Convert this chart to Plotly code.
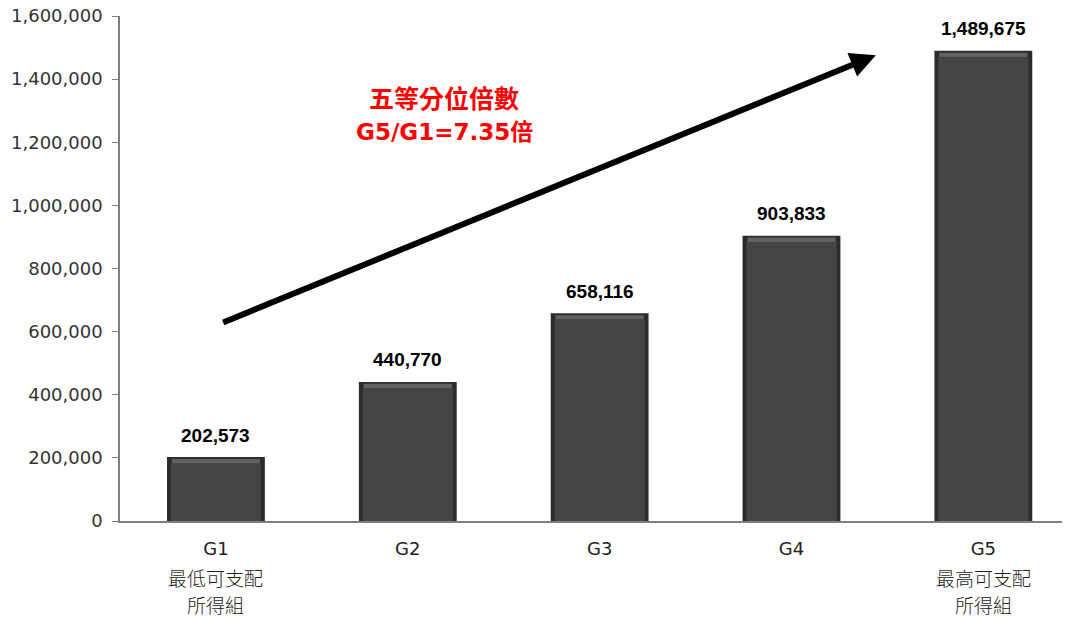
import plotly.graph_objects as go

groups = ["G1", "G2", "G3", "G4", "G5"]
sublabels = [["最低可支配", "所得組"], [], [], [], ["最高可支配", "所得組"]]
values = [202573, 440770, 658116, 903833, 1489675]
tick_vals = [0, 200000, 400000, 600000, 800000, 1000000, 1200000, 1400000, 1600000]
tick_text = ["0", "200,000", "400,000", "600,000", "800,000", "1,000,000", "1,200,000", "1,400,000", "1,600,000"]
value_labels = [f"{v:,}" for v in values]
idx = list(range(len(groups)))

CJK = "Noto Sans CJK TC"
fig = go.Figure()
# outer bar (dark edge)
fig.add_trace(go.Bar(x=idx, y=values, width=0.51,
                     marker=dict(color="#2c2c2c", line=dict(width=0)), hoverinfo="skip"))
# top bevel highlight
fig.add_trace(go.Bar(x=idx, y=[14000] * len(values), base=[v - 20000 for v in values], width=0.46,
                     marker=dict(color="#606060", line=dict(width=0)), hoverinfo="skip"))
# inner face
fig.add_trace(go.Bar(x=idx, y=[v - 20000 for v in values], width=0.47,
                     marker=dict(color="#444444", line=dict(width=0)), hoverinfo="skip"))

for i, v, t in zip(idx, values, value_labels):
    fig.add_annotation(x=i, y=v, text=f"<b>{t}</b>", showarrow=False,
                       yshift=22, font=dict(size=19, color="#000000",
                                            family="Liberation Sans, sans-serif"))

for i, subs in zip(idx, sublabels):
    for k, s in enumerate(subs):
        fig.add_annotation(x=i, y=0, text=s, showarrow=False, yshift=-56 - 27 * k,
                           font=dict(size=19, color="#222222", family=CJK, weight=300))

# trend arrow
fig.add_annotation(x=3.44, y=1476000, ax=0.03, ay=627000,
                   xref="x", yref="y", axref="x", ayref="y",
                   showarrow=True, arrowhead=2, arrowsize=0.85, arrowwidth=6,
                   arrowcolor="#000000", text="")

fig.add_annotation(x=1.19, y=1400000, xref="x", yref="y", yanchor="top",
                   text="<b>五等分位倍數</b>", showarrow=False, yshift=-4,
                   font=dict(size=25, color="#ff0000", family="DejaVu Sans, " + CJK))
fig.add_annotation(x=1.19, y=1400000, xref="x", yref="y", yanchor="top",
                   text="<b>G5/G1=7.35倍</b>", showarrow=False, yshift=-38,
                   font=dict(size=23, color="#ff0000", family="DejaVu Sans, " + CJK))

fig.update_layout(
    width=1067, height=619,
    margin=dict(l=120, r=5, t=16, b=98),
    paper_bgcolor="white", plot_bgcolor="white",
    showlegend=False, barmode="overlay",
    font=dict(family="DejaVu Sans, " + CJK, size=17, color="#222222"),
)
fig.update_xaxes(
    tickvals=idx, ticktext=groups, range=[-0.5, 4.41],
    showline=True, linecolor="#7f7f7f", linewidth=1.5, ticks="",
    showgrid=False, zeroline=False, ticklabelstandoff=11,
    tickfont=dict(size=18, family="DejaVu Sans", color="#222222"),
)
fig.update_yaxes(
    range=[0, 1600000], tickvals=tick_vals, ticktext=tick_text,
    showline=True, linecolor="#7f7f7f", linewidth=1.5,
    ticks="outside", ticklen=6, tickcolor="#7f7f7f",
    showgrid=False, zeroline=False, ticklabelstandoff=6,
    tickfont=dict(size=18, color="#333333", family="DejaVu Sans"),
)

fig.write_html("out.html", config={"displayModeBar": False},
               post_script="document.body.style.margin='0';")
